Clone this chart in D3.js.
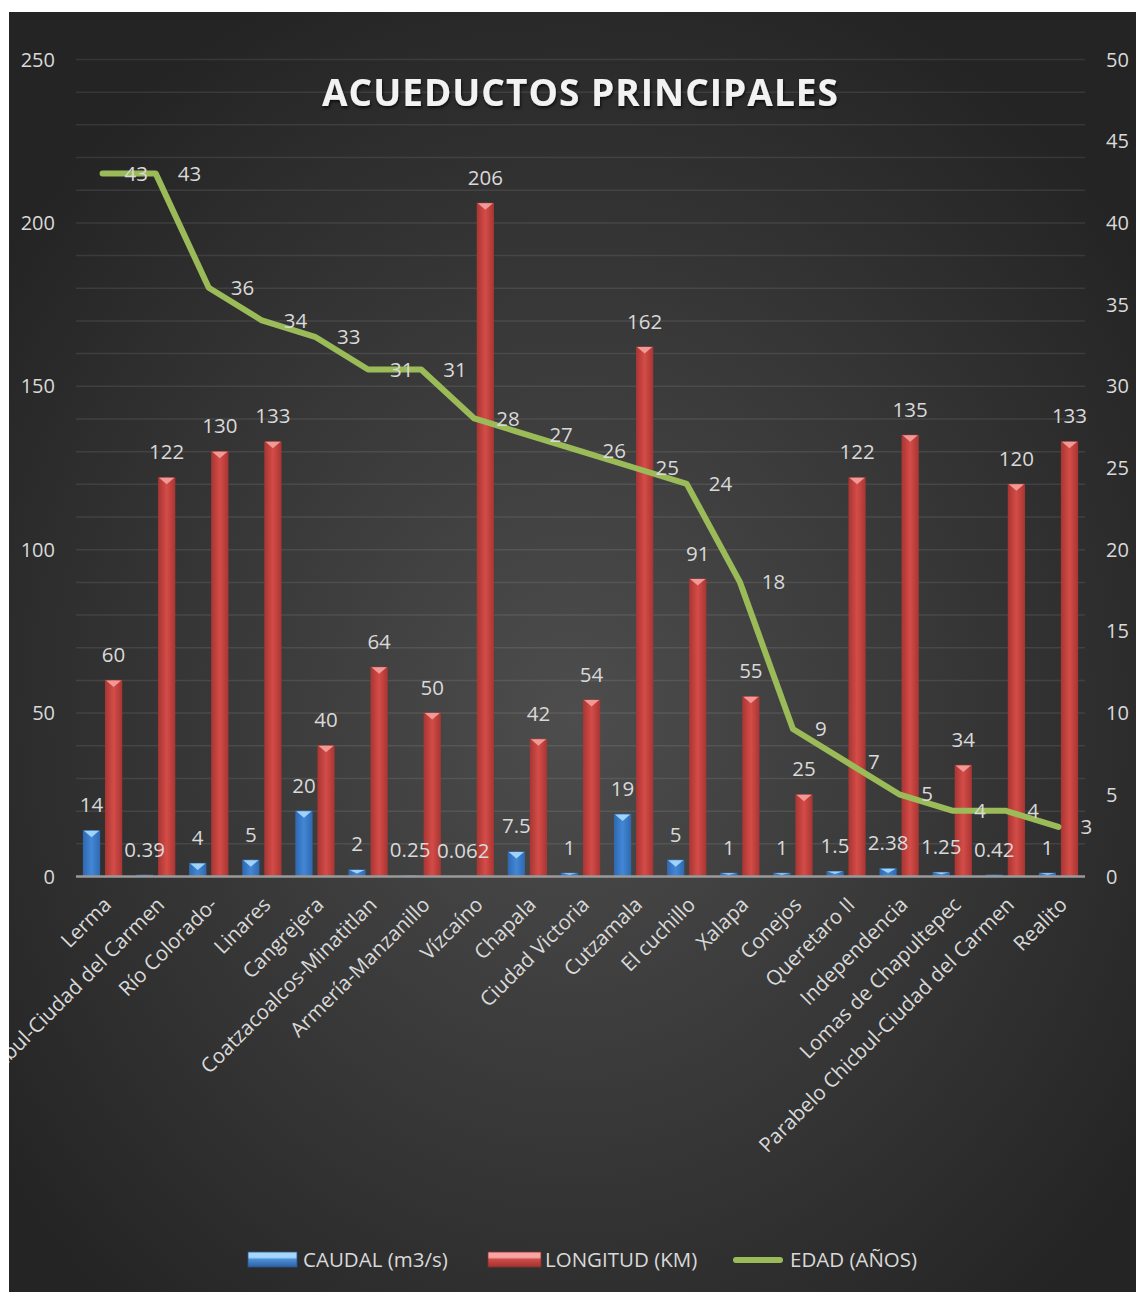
<!DOCTYPE html>
<html><head><meta charset="utf-8">
<script src="https://cdn.jsdelivr.net/npm/d3@7"></script>
<style>
html,body{margin:0;padding:0;background:#fff;}
svg{display:block;}
text{font-family:"Open Sans",sans-serif;}
</style>
</head><body>
<svg id="chart" width="1136" height="1292"></svg>
<script>
const categories = ["Lerma","Chicbul-Ciudad del Carmen","Río Colorado-","Linares","Cangrejera","Coatzacoalcos-Minatitlan","Armería-Manzanillo","Vízcaíno","Chapala","Ciudad Victoria","Cutzamala","El cuchillo","Xalapa","Conejos","Queretaro II","Independencia","Lomas de Chapultepec","Parabelo Chicbul-Ciudad del Carmen","Realito"];
const caudal = [14,0.39,4,5,20,2,0.25,0.062,7.5,1,19,5,1,1,1.5,2.38,1.25,0.42,1];
const longitud = [60,122,130,133,40,64,50,206,42,54,162,91,55,25,122,135,34,120,133];
const edad = [43,43,36,34,33,31,31,28,27,26,25,24,18,9,7,5,4,4,3];
const leftTicks = [0,50,100,150,200,250];
const rightTicks = [0,5,10,15,20,25,30,35,40,45,50];
const seriesNames = ["CAUDAL (m3/s)","LONGITUD (KM)","EDAD (AÑOS)"];
const chartTitle = "ACUEDUCTOS PRINCIPALES";

const svg = d3.select("#chart");
const box = {x:9, y:12, w:1127, h:1280};
const plot = {l:76, r:1085, t:59, b:876};
const textColor = "#d9d9d9";

const defs = svg.append("defs");
const bg = defs.append("radialGradient").attr("id","bg").attr("cx","0.5").attr("cy","0.55").attr("r","0.62");
bg.append("stop").attr("offset","0").attr("stop-color","#4d4d4d");
bg.append("stop").attr("offset","1").attr("stop-color","#242424");

function hGrad(id, edge, mid){
  const g = defs.append("linearGradient").attr("id",id).attr("x1","0").attr("x2","1").attr("y1","0").attr("y2","0");
  g.append("stop").attr("offset","0").attr("stop-color",edge);
  g.append("stop").attr("offset","0.5").attr("stop-color",mid);
  g.append("stop").attr("offset","1").attr("stop-color",edge);
}
hGrad("gBlue","#2f68b0","#4287d6");
hGrad("gRed","#a83532","#d44c48");
function vGrad(id, top, mid, bot){
  const g = defs.append("linearGradient").attr("id",id).attr("x1","0").attr("x2","0").attr("y1","0").attr("y2","1");
  g.append("stop").attr("offset","0").attr("stop-color",top);
  g.append("stop").attr("offset","0.35").attr("stop-color",top);
  g.append("stop").attr("offset","0.5").attr("stop-color",mid);
  g.append("stop").attr("offset","1").attr("stop-color",bot);
}
vGrad("lBlue","#a6d6fb","#4a8fd6","#2f5f9f");
vGrad("lRed","#f6a5a2","#cf4a46","#9c3431");

const clip = defs.append("clipPath").attr("id","clipBox");
clip.append("rect").attr("x",box.x).attr("y",box.y).attr("width",box.w).attr("height",box.h);

const shadow = defs.append("filter").attr("id","tshadow").attr("x","-10%").attr("y","-30%").attr("width","120%").attr("height","160%");
shadow.append("feDropShadow").attr("dx",1).attr("dy",2).attr("stdDeviation",1.5).attr("flood-color","#000").attr("flood-opacity",0.7);

const root = svg.append("g").attr("clip-path","url(#clipBox)");
root.append("rect").attr("x",box.x).attr("y",box.y).attr("width",box.w).attr("height",box.h).attr("fill","url(#bg)");

const x = d3.scaleBand().domain(categories).range([plot.l, plot.r]).padding(0);
const x1 = d3.scaleBand().domain(["caudal","longitud"]).range([x.bandwidth()*0.13, x.bandwidth()*0.87]).paddingInner(0.22);
const yL = d3.scaleLinear().domain([0,250]).range([plot.b, plot.t]);
const yR = d3.scaleLinear().domain([0,50]).range([plot.b, plot.t]);

// gridlines
root.append("g").selectAll("line").data(d3.range(10,251,10)).join("line")
  .attr("x1",plot.l).attr("x2",plot.r)
  .attr("y1",d=>yL(d)+0.5).attr("y2",d=>yL(d)+0.5)
  .attr("stroke","#ffffff").attr("stroke-opacity",0.09).attr("stroke-width",1.5);

// left axis
const axL = d3.axisLeft(yL).tickValues(leftTicks).tickSize(0).tickPadding(0);
const gL = root.append("g").attr("transform",`translate(55,0)`).call(axL);
gL.select(".domain").remove();
gL.selectAll("text").attr("fill",textColor).attr("font-size","20px").attr("font-family","'Open Sans',sans-serif").attr("dy","0.35em");

// right axis
const axR = d3.axisRight(yR).tickValues(rightTicks).tickSize(0).tickPadding(0);
const gR = root.append("g").attr("transform",`translate(1106,0)`).call(axR);
gR.select(".domain").remove();
gR.selectAll("text").attr("fill",textColor).attr("font-size","20px").attr("font-family","'Open Sans',sans-serif").attr("dy","0.35em");

// bars (both on left axis)
const rows = categories.map((c,i)=>({cat:c, caudal:caudal[i], longitud:longitud[i], edad:edad[i]}));
function drawBars(key, fill, hl){
  const g = root.append("g");
  rows.forEach(r=>{
    const bx = x(r.cat) + x1(key);
    const bw = x1.bandwidth();
    const top = yL(r[key]);
    const h = plot.b - top;
    g.append("rect").attr("x",bx).attr("y",top).attr("width",bw).attr("height",h).attr("fill",fill);
    if (h > 2.5){
      const th = Math.min(7, h*0.6);
      g.append("polygon")
        .attr("points",`${bx+1},${top+0.5} ${bx+bw-1},${top+0.5} ${bx+bw/2},${top+th}`)
        .attr("fill",hl).attr("opacity",0.9);
    }
  });
}
drawBars("caudal", "url(#gBlue)", "#a8dcff");
drawBars("longitud", "url(#gRed)", "#f5a29e");

// axis line at zero
root.append("line").attr("x1",plot.l).attr("x2",plot.r).attr("y1",plot.b+0.5).attr("y2",plot.b+0.5)
  .attr("stroke","#9a9a9a").attr("stroke-width",2.5);

// line
const line = d3.line().x(d=>x(d.cat)+x.bandwidth()/2).y(d=>yR(d.edad));
root.append("path").datum(rows).attr("d",line).attr("fill","none")
  .attr("stroke","#9bbb59").attr("stroke-width",6).attr("stroke-linecap","round").attr("stroke-linejoin","round");

// data labels
const lab = root.append("g").attr("fill",textColor).attr("font-size","20.5px");
rows.forEach(r=>{
  lab.append("text").attr("x",x(r.cat)+x1("caudal")+x1.bandwidth()/2).attr("y",yL(r.caudal)-18)
    .attr("text-anchor","middle").text(String(r.caudal));
  lab.append("text").attr("x",x(r.cat)+x1("longitud")+x1.bandwidth()/2).attr("y",yL(r.longitud)-18)
    .attr("text-anchor","middle").text(String(r.longitud));
  lab.append("text").attr("x",x(r.cat)+x.bandwidth()/2+22).attr("y",yR(r.edad)).attr("dy","0.35em")
    .attr("text-anchor","start").text(String(r.edad));
});

// category labels
root.append("g").selectAll("text").data(categories).join("text")
  .attr("transform",d=>`translate(${x(d)+x.bandwidth()/2+10},${plot.b+30}) rotate(-45)`)
  .attr("text-anchor","end").attr("fill",textColor).attr("font-size","20.5px").text(d=>d);

// title
const t = root.append("text").attr("x",580).attr("y",106).attr("text-anchor","middle")
  .attr("font-size","37px").attr("font-weight","bold").attr("fill","#f2f2f2")
  .attr("filter","url(#tshadow)").text(chartTitle);
const natural = t.node().getComputedTextLength();
t.attr("textLength",516).attr("lengthAdjust", natural > 516 ? "spacingAndGlyphs" : "spacing");

// legend
const lg = root.append("g");
const legendItems = [
  {name:seriesNames[0], sx:248, sw:49, tx:303, kind:"bar", fill:"url(#lBlue)", stroke:"#2a5690"},
  {name:seriesNames[1], sx:488, sw:53, tx:545, kind:"bar", fill:"url(#lRed)", stroke:"#8c2e2b"},
  {name:seriesNames[2], sx:733, sw:50, tx:790, kind:"line"}
];
legendItems.forEach(it=>{
  if (it.kind==="bar"){
    lg.append("rect").attr("x",it.sx).attr("y",1252).attr("width",it.sw).attr("height",15)
      .attr("fill",it.fill).attr("stroke",it.stroke).attr("stroke-width",0.8);
  } else {
    lg.append("line").attr("x1",it.sx+3).attr("x2",it.sx+it.sw-3).attr("y1",1260).attr("y2",1260)
      .attr("stroke","#9bbb59").attr("stroke-width",6).attr("stroke-linecap","round");
  }
  lg.append("text").attr("x",it.tx).attr("y",1260).attr("dy","0.35em").attr("fill",textColor)
    .attr("font-size","20.5px").text(it.name);
});
</script>
</body></html>
